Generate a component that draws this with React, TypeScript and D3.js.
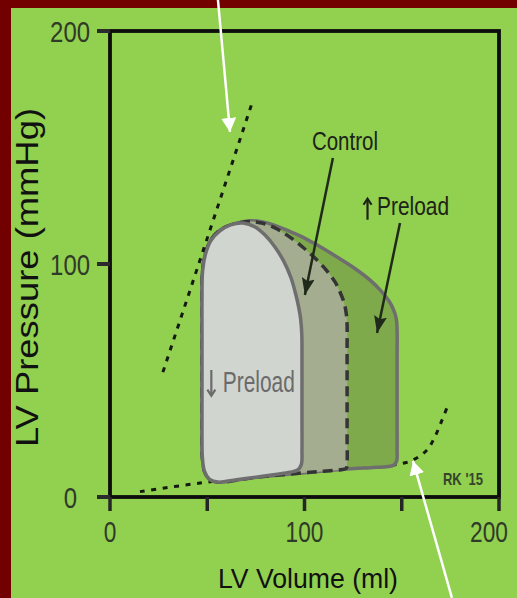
import React from "react";
import * as d3 from "d3";

const W = 517;
const H = 598;

// Axis ticks
const xTicks = [0, 50, 100, 150, 200];
const xTickLabels = ["0", "", "100", "", "200"];
const yTicks = [0, 100, 200];
const yTickLabels = ["0", "100", "200"];

// End-systolic pressure-volume relation (dotted, upper left) [volume ml, pressure mmHg]
const espvr: [number, number][] = [
  [27.2, 53.6],
  [73, 169],
];

// End-diastolic pressure-volume relation (dotted, bottom)
const edpvr: [number, number][] = [
  [15.4, 2.3],
  [46.3, 6],
  [72, 8.5],
  [98, 10.8],
  [123, 12.8],
  [147.6, 14],
  [155.8, 15.9],
  [163, 20.2],
  [167, 25.8],
  [170.7, 33],
  [173.8, 39.5],
];

// ↓ Preload loop
const lowLoop: [number, number][] = [
  [68.4, 117.6], [62, 116.8], [56.5, 114.2], [51.8, 110], [49, 104], [47.6, 97],
  [47.3, 85], [47.3, 70], [47.3, 55], [47.3, 40], [47.3, 26], [47.5, 17],
  [48.6, 11], [51.2, 7.6], [55.5, 6.4], [65, 7.4], [75, 8.5], [85, 9.7],
  [92.5, 10.6], [96.5, 11.6], [98.4, 14], [98.7, 20], [98.7, 32], [98.7, 46],
  [98.7, 60], [98.6, 70], [98.0, 76.5], [97.0, 81.5], [95.5, 87], [93.1, 94],
  [89.5, 100.9], [84.8, 107.3], [79.7, 112.4], [74.6, 115.9],
];

// Control loop
const controlLoop: [number, number][] = [
  [72, 118.2], [63, 117], [56.5, 114.5], [51.8, 110.2], [49, 104.2], [47.6, 97],
  [47.3, 85], [47.3, 70], [47.3, 55], [47.3, 40], [47.3, 26], [47.5, 17],
  [48.6, 11], [51.2, 7.6], [55.5, 6.4], [75, 8.5], [98.7, 10.3], [110, 11.1],
  [118.5, 11.7], [121.4, 12.3], [121.9, 15], [121.9, 25], [121.9, 38],
  [121.9, 52], [121.9, 65], [121.9, 73.8], [121.5, 78.5], [120.4, 83.3],
  [118.3, 87.9], [115.7, 92.3], [111.4, 97.2], [106.4, 101.7], [99, 107.3],
  [91, 112.4], [84, 115.8], [78, 117.6],
];

// ↑ Preload loop
const highLoop: [number, number][] = [
  [72, 118.6], [63, 117], [56.5, 114.5], [51.8, 110.2], [49, 104.2], [47.6, 97],
  [47.3, 85], [47.3, 70], [47.3, 55], [47.3, 40], [47.3, 26], [47.5, 17],
  [48.6, 11], [51.2, 7.6], [55.5, 6.4], [75, 8.5], [98.7, 10.3], [121.9, 12],
  [134, 12.6], [142, 13], [145.8, 13.6], [147.4, 15.5], [147.6, 20], [147.6, 32],
  [147.6, 46], [147.6, 60], [147.6, 72], [147.2, 76.5], [145.8, 80.3],
  [143.5, 84], [139, 88.8], [133.7, 93.1], [125.5, 98.3], [116.7, 103],
  [107, 107.9], [97.7, 112.1], [91, 114.5], [84.8, 116.6], [78, 118.1],
];

// Annotation arrows: [from, to]
const whiteArrows: [number, number][][] = [
  [[55.5, 213.3], [61.7, 156.7]],
  [[175.8, -43.3], [155.8, 15.5]],
];
const darkArrows: [number, number][][] = [
  [[114.6, 145.5], [100.2, 86.7]],
  [[149.1, 117.6], [137.3, 70.4]],
];

const FONT = "'Liberation Sans', Arial, Helvetica, sans-serif";

function T(props: any) {
  const { x, y, len, size, anchor = "start", fill = "#222", weight = "normal", children, transform } = props;
  return (
    <text
      x={x}
      y={y}
      transform={transform}
      fontSize={size}
      fontFamily={FONT}
      fontWeight={weight}
      textAnchor={anchor}
      fill={fill}
      textLength={len}
      lengthAdjust="spacingAndGlyphs"
    >
      {children}
    </text>
  );
}

// a thin text-style vertical arrow glyph (up or down)
function GlyphArrow(props: any) {
  const { cx, top, bottom, up, color, w = 2.2 } = props;
  const head = 6;
  const tipY = up ? top : bottom;
  const dir = up ? 1 : -1;
  return (
    <g stroke={color} strokeWidth={w} fill="none" strokeLinecap="butt">
      <line x1={cx} x2={cx} y1={top} y2={bottom} />
      <polyline points={`${cx - 4},${tipY + dir * head} ${cx},${tipY} ${cx + 4},${tipY + dir * head}`} />
    </g>
  );
}

export default function App() {
  const x = d3.scaleLinear().domain([0, 200]).range([110, 499]);
  const y = d3.scaleLinear().domain([0, 200]).range([497, 31]);

  const closed = d3
    .line<[number, number]>()
    .x((d) => x(d[0]))
    .y((d) => y(d[1]))
    .curve(d3.curveCatmullRomClosed.alpha(0.5));
  const open = d3
    .line<[number, number]>()
    .x((d) => x(d[0]))
    .y((d) => y(d[1]))
    .curve(d3.curveCatmullRom.alpha(0.5));
  const straight = d3
    .line<[number, number]>()
    .x((d) => x(d[0]))
    .y((d) => y(d[1]));

  const outline = "#6e6e6e";
  const dark = "#1b2416";

  return (
    <svg width={W} height={H} style={{ position: "absolute", left: 0, top: 0 }}>
      <defs>
        <marker id="wh" markerUnits="userSpaceOnUse" markerWidth={16} markerHeight={16} refX={14} refY={7.5} orient="auto">
          <path d="M0,0 L14,7.5 L0,15 z" fill="#ffffff" />
        </marker>
        <marker id="dk" markerUnits="userSpaceOnUse" markerWidth={20} markerHeight={14} refX={17} refY={6.5} orient="auto">
          <path d="M0,0 L17,6.5 L0,13 L3,6.5 z" fill="#1f2a1a" />
        </marker>
      </defs>

      <rect x={0} y={0} width={W} height={H} fill="#720000" />
      <rect x={11} y={8} width={W - 11} height={H - 8} fill="#92d050" />

      {/* EDPVR */}
      <path d={open(edpvr) || ""} fill="none" stroke="#141a10" strokeWidth={3} strokeDasharray="5 6.5" />

      {/* loops */}
      <path d={closed(highLoop) || ""} fill="#7eaa4b" stroke={outline} strokeWidth={3.5} strokeLinejoin="round" />
      <path d={closed(controlLoop) || ""} fill="#a4ad8f" stroke="#343434" strokeWidth={3.5} strokeDasharray="10 6" />
      <path d={closed(lowLoop) || ""} fill="#d1d5d0" stroke={outline} strokeWidth={3.5} strokeLinejoin="round" />

      {/* ESPVR */}
      <path d={straight(espvr) || ""} fill="none" stroke="#141a10" strokeWidth={3} strokeDasharray="5 6.5" />

      {/* frame */}
      <rect x={x(0)} y={y(200)} width={x(200) - x(0)} height={y(0) - y(200)} fill="none" stroke="#0d0d0d" strokeWidth={3.8} />

      {/* x ticks */}
      {xTicks.map((t, i) => (
        <g key={"xt" + t}>
          <line x1={x(t)} x2={x(t)} y1={y(0)} y2={y(0) + 14} stroke="#262626" strokeWidth={3.5} />
          {xTickLabels[i] && (
            <T x={Math.min(x(t), W - 28)} y={542} size={30} anchor="middle" fill="#2f3a28" len={xTickLabels[i].length * 12.6}>
              {xTickLabels[i]}
            </T>
          )}
        </g>
      ))}

      {/* y ticks */}
      {yTicks.map((t, i) => (
        <g key={"yt" + t}>
          <line x1={x(0) - 13} x2={x(0)} y1={y(t)} y2={y(t)} stroke="#2b2b2b" strokeWidth={4} />
          <T x={t === 0 ? 77 : 90} y={y(t) + 10.5} size={30} anchor="end" fill="#2f3a28" len={yTickLabels[i].length * 13.3}>
            {yTickLabels[i]}
          </T>
        </g>
      ))}

      {/* axis titles */}
      <T x={308} y={588} size={28} anchor="middle" fill="#111" len={180}>
        LV Volume (ml)
      </T>
      <T transform="translate(38,277.5) rotate(-90)" x={0} y={0} size={31} anchor="middle" fill="#111" len={339}>
        LV Pressure (mmHg)
      </T>

      {/* arrows */}
      {whiteArrows.map((a, i) => (
        <path key={"wa" + i} d={straight(a) || ""} stroke="#ffffff" strokeWidth={2.5} fill="none" markerEnd="url(#wh)" />
      ))}
      {darkArrows.map((a, i) => (
        <path key={"da" + i} d={straight(a) || ""} stroke="#1f2a1a" strokeWidth={2.5} fill="none" markerEnd="url(#dk)" />
      ))}

      {/* annotations */}
      <T x={x(120.8)} y={y(148.9)} size={26} anchor="middle" fill={dark} len={66}>
        Control
      </T>
      <GlyphArrow cx={x(132.4)} top={y(128)} bottom={y(119)} up color={dark} />
      <T x={x(137.3)} y={y(121)} size={25} fill={dark} len={72}>
        Preload
      </T>
      <GlyphArrow cx={x(52.1)} top={y(54.5)} bottom={y(43.5)} up={false} color="#6b6b6b" />
      <T x={x(58)} y={y(45)} size={29} fill="#6b6b6b" len={72}>
        Preload
      </T>
      <T x={x(171.2)} y={y(5.2)} size={17} fill="#34452a" weight="bold" len={40}>
        RK '15
      </T>
    </svg>
  );
}
